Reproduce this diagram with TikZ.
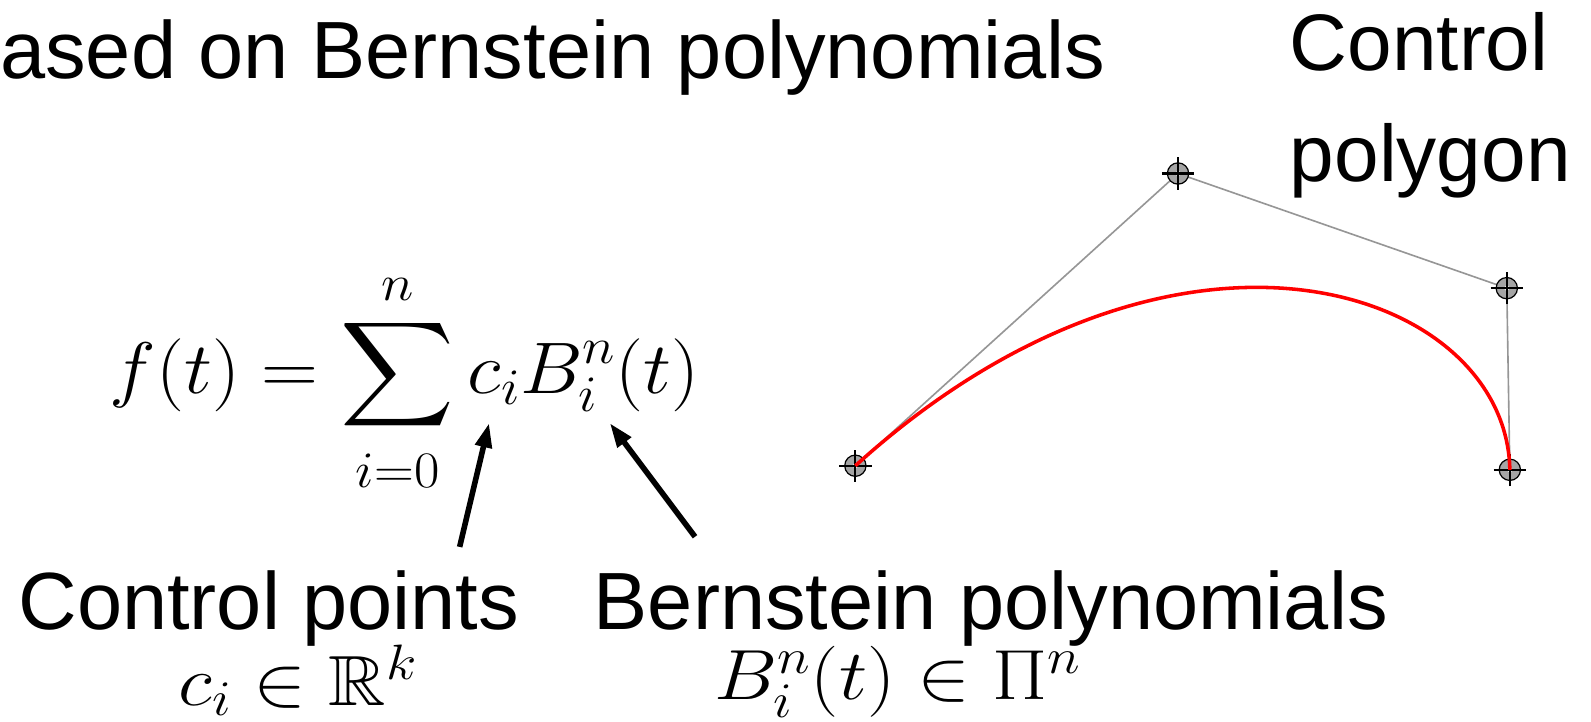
\RequirePackage{fix-cm}
\documentclass[tikz,border=0pt]{standalone}
\usepackage{graphicx}
\usepackage{amssymb}
\usepackage{fontspec}
\setmainfont{Liberation Sans}
\usetikzlibrary{arrows.meta}
\definecolor{poly}{RGB}{150,150,150}
\definecolor{knob}{RGB}{165,165,165}
\tikzset{bigtext/.style={font=\fontsize{80}{110}\selectfont,inner sep=0pt},
         formula/.style={font=\fontsize{72}{86}\selectfont,inner sep=0pt},
         smallformula/.style={font=\fontsize{70}{84}\selectfont,inner sep=0pt},
         pointer/.style={draw=black,line width=5.5pt,-{Triangle[length=24pt,width=16pt]}},
         polyline/.style={draw=poly,line width=1.6pt},
         curve/.style={draw=red,line width=3.5pt},
         ctrlpt/.style={circle,draw=black,fill=knob,line width=1.2pt,minimum size=21pt,inner sep=0pt},
         crosshair/.style={draw=black,line width=2pt}}

\begin{document}
\begin{tikzpicture}[x=1pt,y=-1pt]
  \useasboundingbox (0,0) rectangle (1568,711);
  % texts
  \node[bigtext,anchor=base west] (title) at (0,77) {ased on Bernstein polynomials};
  \node[bigtext,anchor=base west,font=\fontsize{79}{96}\selectfont] (ctrllbl) at (1271,69) {Control};
  \node[bigtext,anchor=base west,font=\fontsize{79}{96}\selectfont] (polylbl) at (1271,179) {polygon};
  \node[formula,anchor=base west] (sum) at (108,387.5)
    {\scalebox{1.08}[1]{$\displaystyle f(t)=\sum_{\rule{0pt}{41pt}i=0}^{\rule[-8pt]{0pt}{8pt}n}c_iB_i^n(t)$}};
  \node[bigtext,anchor=base west] (cplbl) at (18,620) {Control points};
  \node[bigtext,anchor=base west] (bplbl) at (585,620) {Bernstein polynomials};
  \node[smallformula,anchor=base west] (cpset) at (176,695)
    {\scalebox{1.12}[1]{$c_i\in\mathbb{R}^k$}};
  \node[smallformula,anchor=base west] (bpset) at (704,689)
    {\scalebox{1.12}[1]{$B_i^n(t)\in\Pi^n$}};
  % arrows
  \coordinate (cptail) at (453,539);
  \coordinate (cphead) at (482,417);
  \coordinate (bptail) at (685,529);
  \coordinate (bphead) at (601,417);
  \draw[pointer] (cptail) -- (cphead);
  \draw[pointer] (bptail) -- (bphead);
  % bezier
  \coordinate (p0) at (843,459);
  \coordinate (p1) at (1161,171);
  \coordinate (p2) at (1485,284);
  \coordinate (p3) at (1488,463);
  \draw[polyline] (p0) -- (p1) -- (p2) -- (p3);
  \foreach \p in {p0,p1,p2,p3}{
    \node[ctrlpt] at (\p) {};
    \fill[white!85!gray] (\p) circle (2.5);
    \draw[crosshair] ([xshift=-16pt]\p) -- ([xshift=16pt]\p)
                     ([yshift=-16pt]\p) -- ([yshift=16pt]\p);
  }
  \draw[curve] (p0) .. controls (p1) and (p2) .. (p3);
\end{tikzpicture}
\end{document}
